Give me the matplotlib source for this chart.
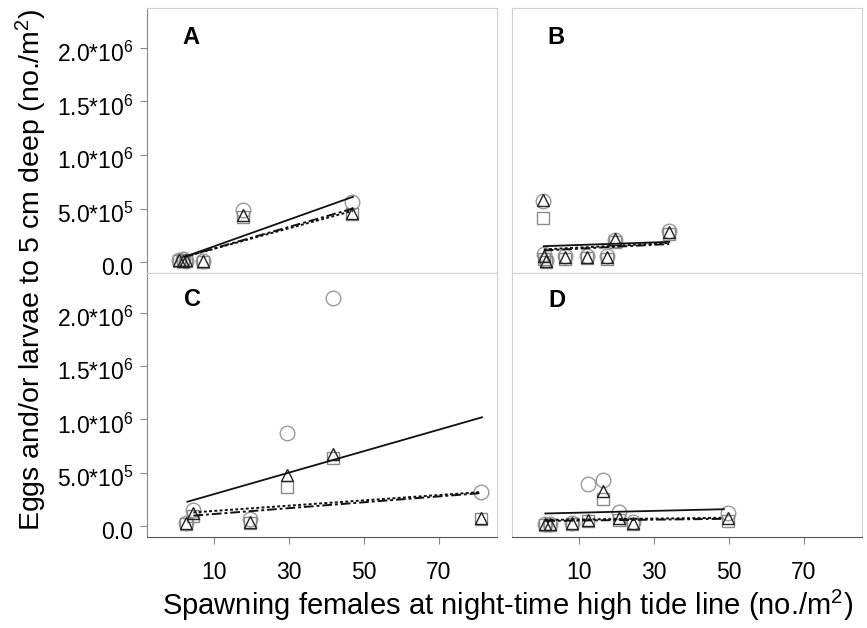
import matplotlib
matplotlib.use("Agg")
import matplotlib.pyplot as plt
import matplotlib.transforms as mtransforms
from matplotlib.ticker import FixedLocator, FixedFormatter

plt.rcParams['font.family'] = ['Liberation Sans', 'DejaVu Sans']
plt.rcParams['mathtext.fontset'] = 'custom'
plt.rcParams['mathtext.rm'] = 'Liberation Sans'
plt.rcParams['mathtext.it'] = 'Liberation Sans:italic'
plt.rcParams['mathtext.bf'] = 'Liberation Sans:bold'

# ---- data (values in units of 1e6 eggs/larvae per m^2) ----
A_x = [0.5, 1.5, 2.5, 7.0, 17.7, 46.8]
A_circle = [0.02, 0.03, 0.01, 0.01, 0.49, 0.56]
A_square = [0.01, 0.02, 0.01, 0.00, 0.42, 0.45]
A_triangle = [0.02, 0.01, 0.02, 0.01, 0.44, 0.46]
A_solid = ([2.0, 47.0], [0.05, 0.61])
A_dashed = ([2.0, 47.0], [0.05, 0.50])
A_dotted = ([2.0, 47.0], [0.05, 0.48])

B_x = [0.3, 0.6, 1.0, 6.2, 12.1, 17.5, 19.4, 33.9]
B_circle = [0.57, 0.08, 0.02, 0.06, 0.06, 0.06, 0.21, 0.29]
B_square = [0.41, 0.03, 0.00, 0.03, 0.04, 0.03, 0.19, 0.26]
B_triangle = [0.58, 0.06, 0.01, 0.05, 0.05, 0.05, 0.22, 0.28]
B_solid = ([0.5, 34.0], [0.15, 0.19])
B_dashed = ([0.5, 34.0], [0.11, 0.17])
B_dotted = ([0.5, 34.0], [0.12, 0.18])

C_x = [2.3, 4.4, 19.6, 29.5, 41.7, 81.2]
C_circle = [0.03, 0.15, 0.07, 0.87, 2.14, 0.32]
C_square = [0.02, 0.10, 0.03, 0.37, 0.64, 0.07]
C_triangle = [0.03, 0.12, 0.04, 0.48, 0.68, 0.08]
C_solid = ([2.8, 81.5], [0.23, 1.02])
C_dashed = ([4.4, 81.0], [0.10, 0.31])
C_dotted = ([4.4, 81.0], [0.13, 0.32])

D_x = [0.8, 2.2, 8.1, 12.4, 16.2, 20.5, 24.2, 49.7]
D_circle = [0.02, 0.02, 0.03, 0.40, 0.43, 0.13, 0.04, 0.12]
D_square = [0.01, 0.01, 0.02, 0.05, 0.26, 0.06, 0.02, 0.05]
D_triangle = [0.02, 0.02, 0.03, 0.06, 0.33, 0.08, 0.03, 0.08]
D_solid = ([0.9, 48.6], [0.12, 0.16])
D_dashed = ([0.9, 48.6], [0.05, 0.07])
D_dotted = ([0.9, 48.6], [0.06, 0.08])

y_ticks = [0.0, 0.5e6, 1.0e6, 1.5e6, 2.0e6]
y_ticklabels = ["0.0", r"5.0*10$^5$", r"1.0*10$^6$", r"1.5*10$^6$", r"2.0*10$^6$"]
x_ticks = [10, 30, 50, 70]
x_ticklabels = ["10", "30", "50", "70"]

panels = [
    ("A", A_x, A_circle, A_square, A_triangle, A_solid, A_dashed, A_dotted),
    ("B", B_x, B_circle, B_square, B_triangle, B_solid, B_dashed, B_dotted),
    ("C", C_x, C_circle, C_square, C_triangle, C_solid, C_dashed, C_dotted),
    ("D", D_x, D_circle, D_square, D_triangle, D_solid, D_dashed, D_dotted),
]

W, H = 867, 628
fig = plt.figure(figsize=(W / 100, H / 100), dpi=100)

def px_axes(x0, y0, x1, y1):
    return fig.add_axes([x0 / W, 1 - y1 / H, (x1 - x0) / W, (y1 - y0) / H])

boxes = [(147, 8, 497, 273), (512, 8, 862, 273), (147, 273, 497, 537), (512, 273, 862, 537)]
label_pos = [(0.126, 0.887), (0.126, 0.887), (0.13, 0.90), (0.128, 0.895)]

down = mtransforms.ScaledTranslation(0, -4 / 100, fig.dpi_scale_trans)

for i, (lab, xs, yc, ysq, ytr, ls, ld, lt) in enumerate(panels):
    ax = px_axes(*boxes[i])
    sc = 1e6
    ax.plot(xs, [v * sc for v in yc], linestyle='none', marker='o', ms=10.5,
            mfc='none', mec='#9a9a9a', mew=1.0, zorder=3)
    ax.plot(xs, [v * sc for v in ysq], linestyle='none', marker='s', ms=8.5,
            mfc='none', mec='#8a8a8a', mew=1.0, zorder=3)
    ax.plot(xs, [v * sc for v in ytr], linestyle='none', marker='^', ms=9,
            mfc='none', mec='#222222', mew=1.0, zorder=3)
    ax.plot(ls[0], [v * sc for v in ls[1]], color='#111111', lw=1.3, ls='-', zorder=4)
    ax.plot(ld[0], [v * sc for v in ld[1]], color='#111111', lw=1.4, ls=(0, (5, 1.5, 1.5, 1.5)), zorder=4)
    ax.plot(lt[0], [v * sc for v in lt[1]], color='#111111', lw=1.4, ls=(0, (1.5, 1.2)), zorder=4)

    ax.set_xlim(-8, 85.5)
    ax.set_ylim(-0.1e6, 2.37e6)
    ax.text(label_pos[i][0], label_pos[i][1], lab, transform=ax.transAxes,
            fontsize=17, fontweight='bold', ha='center', va='center')

    for s in ax.spines.values():
        s.set_color('#d0d0d0')
        s.set_linewidth(0.8)
    ax.yaxis.set_major_locator(FixedLocator(y_ticks))
    ax.xaxis.set_major_locator(FixedLocator(x_ticks))
    ax.tick_params(axis='both', direction='out', length=5, width=0.8, color='#888888',
                   labelsize=16.5, pad=5)
    if i % 2 == 0:
        ax.spines['left'].set_color('#888888')
        ax.yaxis.set_major_formatter(FixedFormatter(y_ticklabels))
        for t in ax.get_yticklabels():
            t.set_transform(t.get_transform() + down)
    else:
        ax.tick_params(axis='y', left=False, labelleft=False)
    if i >= 2:
        ax.spines['bottom'].set_color('#555555')
        ax.xaxis.set_major_formatter(FixedFormatter(x_ticklabels))
        ax.tick_params(axis='x', pad=12)
    else:
        ax.tick_params(axis='x', bottom=False, labelbottom=False)

fig.text(31 / W, 1 - 270 / H, r"Eggs and/or larvae to 5 cm deep (no./m$^2$)",
         rotation=90, ha='center', va='center', fontsize=20.5)
fig.text(508 / W, 1 - 615 / H, r"Spawning females at night-time high tide line (no./m$^2$)",
         ha='center', va='baseline', fontsize=21)

fig.savefig("out.png", dpi=100)
